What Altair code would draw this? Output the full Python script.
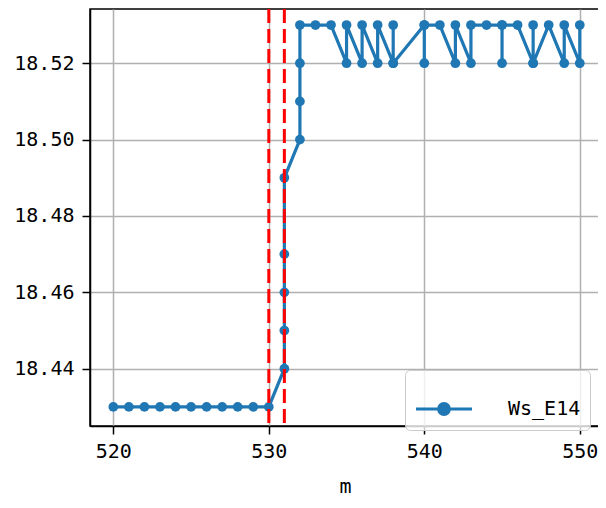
import altair as alt
import pandas as pd

m_values = [520, 521, 522, 523, 524, 525, 526, 527, 528, 529, 530,
            531, 531, 531, 531, 531,
            532, 532, 532, 532,
            533, 534,
            535, 535, 536, 536, 537, 537,
            538, 538, 538,
            540, 540, 540,
            541,
            542, 542, 543, 543,
            544,
            545, 545, 545,
            546,
            547, 547, 547,
            548,
            549, 549, 550, 550]
ws_values = [18.43, 18.43, 18.43, 18.43, 18.43, 18.43, 18.43, 18.43, 18.43, 18.43, 18.43,
             18.44, 18.45, 18.46, 18.47, 18.49,
             18.50, 18.51, 18.52, 18.53,
             18.53, 18.53,
             18.52, 18.53, 18.52, 18.53, 18.52, 18.53,
             18.52, 18.53, 18.52,
             18.53, 18.52, 18.53,
             18.53,
             18.52, 18.53, 18.52, 18.53,
             18.53,
             18.53, 18.52, 18.53,
             18.53,
             18.52, 18.53, 18.52,
             18.53,
             18.52, 18.53, 18.52, 18.53]
series_name = "Ws_E14"
vline_positions = [530, 531]
x_ticks = [520, 530, 540, 550]
y_ticks = [18.44, 18.46, 18.48, 18.50, 18.52]

df = pd.DataFrame({
    "m": m_values,
    "ws": ws_values,
    "idx": list(range(len(m_values))),
    "series": [series_name] * len(m_values),
})
vdf = pd.DataFrame({"m": vline_positions})

FONT = "DejaVu Sans Mono"
BLUE = "#1f77b4"

xscale = alt.Scale(domain=[518.5, 551.3], nice=False, zero=False)
yscale = alt.Scale(domain=[18.425, 18.5342], nice=False, zero=False)

line = alt.Chart(df).mark_line(
    strokeWidth=3.2,
    point=alt.OverlayMarkDef(filled=True, size=95, opacity=1),
).encode(
    x=alt.X("m:Q", scale=xscale, title="m",
            axis=alt.Axis(values=x_ticks, format="d")),
    y=alt.Y("ws:Q", scale=yscale, title=None,
            axis=alt.Axis(values=y_ticks, format=".2f")),
    order="idx:Q",
    color=alt.Color(
        "series:N",
        scale=alt.Scale(range=[BLUE]),
        legend=alt.Legend(
            title=None,
            orient="none",
            legendX=315,
            legendY=361,
            symbolType="M-1,0H1M-0.19,0A0.19,0.19,0,1,1,0.19,0A0.19,0.19,0,1,1,-0.19,0Z",
            symbolSize=3136,
            symbolStrokeWidth=3.2,
            symbolFillColor=BLUE,
            symbolStrokeColor=BLUE,
            labelFont=FONT,
            labelFontSize=20,
            labelColor="black",
            labelOffset=34,
            padding=9,
            strokeColor="#cccccc",
            cornerRadius=5,
            fillColor="rgba(255,255,255,0.8)",
        ),
    ),
)

rules = alt.Chart(vdf).mark_rule(
    color="red", strokeDash=[14, 6], strokeWidth=3
).encode(x=alt.X("m:Q", scale=xscale))

chart = alt.layer(line, rules).properties(
    width=510,
    height=417,
    autosize=alt.AutoSizeParams(type="none"),
    padding={"left": 82, "top": 1, "right": -2, "bottom": 70},
).configure_view(
    stroke="black", strokeWidth=1.5
).configure_axis(
    labelFont=FONT,
    labelFontSize=20,
    labelColor="black",
    titleFont=FONT,
    titleFontSize=20,
    titleFontWeight="normal",
    titleColor="black",
    domainColor="black",
    domainWidth=1.5,
    tickColor="black",
    tickWidth=1.5,
    tickSize=8,
    gridColor="#b0b0b0",
    gridWidth=1.5,
).configure_axisX(
    labelPadding=7,
    titlePadding=15,
).configure_axisY(
    labelPadding=8,
)

chart.save("out.html", embed_options={"renderer": "svg", "actions": False})
